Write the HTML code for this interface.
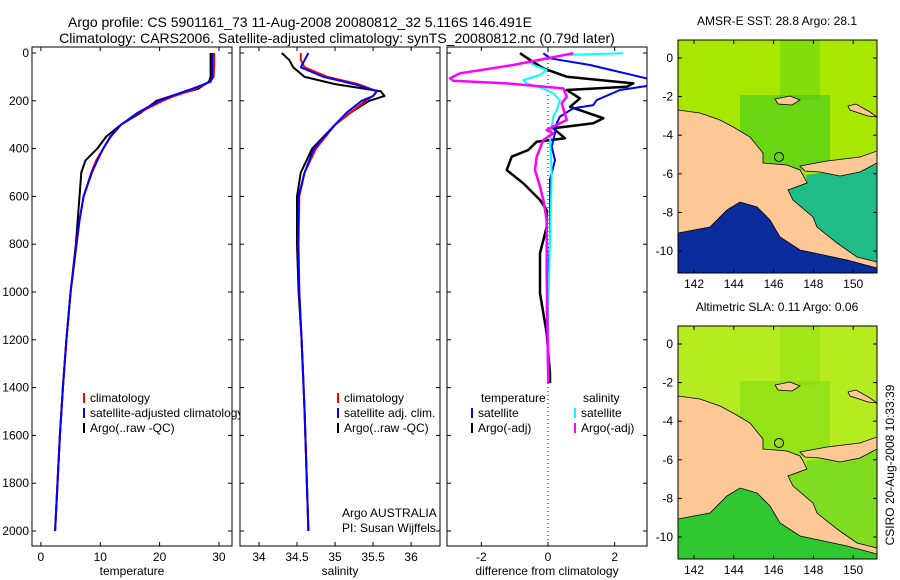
<!DOCTYPE html>
<html><head><meta charset="utf-8">
<style>
body{margin:0;background:#fff;}
svg{display:block;font-family:"Liberation Sans",sans-serif;}
text{font-size:12px;fill:#000;}
</style></head>
<body>
<svg id="fig" width="900" height="580" viewBox="0 0 900 580">
<text x="300" y="27" text-anchor="middle" font-size="14" style="font-size:14px">Argo profile: CS 5901161_73 11-Aug-2008 20080812_32 5.116S 146.491E</text>
<text x="337" y="43" text-anchor="middle" style="font-size:14px">Climatology: CARS2006. Satellite-adjusted climatology: synTS_20080812.nc (0.79d later)</text>
<g id="panels"></g>
<g id="maps"></g>
<text transform="translate(894,465) rotate(-90)" text-anchor="middle">CSIRO 20-Aug-2008 10:33:39</text>
</svg>
<script>
// ---------- data ----------
const tempDepth=[0,50,100,120,150,180,200,250,300,350,400,450,500,600,700,800,1000,1200,1400,1600,1800,2000];
const tempClim=[29.2,29.2,29.1,28.5,26,22.5,20.5,16.5,13.5,11.8,10.5,9.3,8.5,7.2,6.5,6,5,4.3,3.7,3.2,2.8,2.4];
const tempSat=[28.9,28.9,28.9,28.6,25.5,22,20,16.3,13.5,11.7,10.5,9.5,8.6,7.2,6.5,6,5,4.3,3.7,3.2,2.8,2.4];
const tempArgo=[28.6,28.6,28.6,28.3,26.5,22,19.5,16.8,13.5,11,9.5,7.5,6.8,6.5,6.2,5.9,5,4.3,3.7,3.2,2.8,2.4];
const salDepth=[0,30,60,100,130,160,180,200,250,300,400,500,600,800,1000,1200,1500,2000];
const salClim=[34.55,34.55,34.6,34.9,35.3,35.55,35.5,35.4,35.2,35.0,34.75,34.6,34.53,34.52,34.53,34.56,34.6,34.65];
const salSat=[34.65,34.6,34.55,34.85,35.25,35.55,35.5,35.35,35.15,35.0,34.72,34.6,34.52,34.51,34.53,34.56,34.6,34.65];
const salArgo=[34.3,34.4,34.45,34.6,35.0,35.6,35.65,35.45,35.2,35.0,34.7,34.55,34.5,34.5,34.52,34.56,34.6,34.65];
const dTempArgoD=[1,29,64,99,127,141,155,190,225,273,294,315,357,371,406,434,490,545,615,657,727,838,1005,1173,1340,1381];
const dTempArgo=[-0.84,-0.54,-0.14,0.56,2.56,2.36,0.56,0.96,0.66,1.66,1.36,0.16,0.51,-0.34,-0.59,-1.09,-1.24,-0.74,-0.24,-0.04,-0.04,-0.24,-0.24,-0.04,0.06,0.06];
const dTempSatD=[1,22,50,113,134,155,197,218,231,266,294,336,392,448,531,782,1061,1340];
const dTempSat=[-0.14,0.06,1.26,3.16,3.16,2.16,1.46,1.36,0.76,0.36,0.26,0.21,0.11,0.21,0.06,0.06,-0.04,0];
const dSalSatD=[1,8,36,50,71,92,113,127,148,169,197,238,266,308,364,503,782,1061,1298];
const dSalSat=[2.26,0.56,-0.54,-0.44,-0.04,-0.24,-0.74,-0.64,-0.14,0.16,0.36,0.26,0.16,0.11,0.06,0.11,0.06,0.01,0.01];
const dSalArgoD=[1,50,85,106,116,127,148,183,211,280,308,322,336,364,434,490,559,615,699,922,1382];
const dSalArgo=[0.76,-1.04,-2.64,-2.94,-2.84,-1.24,0.46,0.56,0.41,0.56,0.16,-0.04,0.16,-0.14,-0.34,-0.39,-0.24,-0.14,-0.04,-0.04,0.01];
const depthTicks=[0,200,400,600,800,1000,1200,1400,1600,1800,2000];
const tempTicks=[0,10,20,30];
const salTicks=[34,34.5,35,35.5,36];
const diffTicks=[-2,0,2];
const lonTicks=[142,144,146,148,150];
const latTicks=[0,-2,-4,-6,-8,-10];

const NS='http://www.w3.org/2000/svg';
function mk(tag,attrs,parent){const e=document.createElementNS(NS,tag);for(const k in attrs)e.setAttribute(k,attrs[k]);parent.appendChild(e);return e;}
const panels=document.getElementById('panels');
const yD=d=>53+d*0.239;
const PT=47,PB=546;

function panel(name,x0,x1,v0,v1,ticks,label,showDepth){
  const g=mk('g',{},panels);
  
  
  const xs=v=>x0+(v-v0)/(v1-v0)*(x1-x0);
  const fr=mk('rect',{x:x0,y:PT,width:x1-x0,height:PB-PT,fill:'#fff',stroke:'#000','stroke-width':1},g);
  
  
  ticks.forEach(t=>{const X=xs(t);
    mk('line',{x1:X,y1:PB,x2:X,y2:PB-4,stroke:'#000'},g);
    mk('line',{x1:X,y1:PT,x2:X,y2:PT+4,stroke:'#000'},g);
    const tx=mk('text',{x:X,y:PB+15,'text-anchor':'middle'},g);tx.textContent=String(t);
    
    
  });
  depthTicks.forEach(d=>{const Y=yD(d);
    mk('line',{x1:x0,y1:Y,x2:x0+4,y2:Y,stroke:'#000'},g);
    mk('line',{x1:x1,y1:Y,x2:x1-4,y2:Y,stroke:'#000'},g);
    if(showDepth){const tx=mk('text',{x:x0-3,y:Y+4,'text-anchor':'end'},g);tx.textContent=String(d);
      
      }
  });
  const lb=mk('text',{x:(x0+x1)/2,y:PB+29,'text-anchor':'middle'},g);lb.textContent=label;
  
  
  const clip='clip-'+name;
  const cp=mk('clipPath',{id:clip},g);mk('rect',{x:x0,y:PT,width:x1-x0,height:PB-PT},cp);
  const lines=mk('g',{'clip-path':'url(#'+clip+')'},g);
  return {g,xs,lines};
}
function series(p,vals,depths,color,w,name){
  const pts=vals.map((v,i)=>p.xs(v).toFixed(1)+','+yD(depths[i]).toFixed(1)).join(' ');
  const pl=mk('polyline',{points:pts,fill:'none',stroke:color,'stroke-width':w,'stroke-linejoin':'round'},p.lines);
  
  
}
function legend(g,x,y,color,txt,name){
  mk('line',{x1:x,y1:y-9,x2:x,y2:y+1,stroke:color,'stroke-width':2},g);
  const t=mk('text',{x:x+6,y:y},g);t.textContent=txt;
  
  
}

const p1=panel('temperature-panel',32,232,-1.5,32.2,tempTicks,'temperature',true);
series(p1,tempArgo,tempDepth,'#000',2,'temp-argo-line');
series(p1,tempClim,tempDepth,'#f00',2,'temp-climatology-line');
series(p1,tempSat,tempDepth,'#00f',2,'temp-satellite-line');
legend(p1.g,84,402,'#f00','climatology','legend-climatology');
legend(p1.g,84,417,'#00f','satellite-adjusted climatology','legend-satellite');
legend(p1.g,84,432,'#000','Argo(..raw -QC)','legend-argo');

const p2=panel('salinity-panel',240,440,33.75,36.38,salTicks,'salinity',false);
series(p2,salArgo,salDepth,'#000',2,'sal-argo-line');
series(p2,salClim,salDepth,'#f00',2,'sal-climatology-line');
series(p2,salSat,salDepth,'#00f',2,'sal-satellite-line');
legend(p2.g,338,402,'#f00','climatology','legend-sal-climatology');
legend(p2.g,338,417,'#00f','satellite adj. clim.','legend-sal-satellite');
legend(p2.g,338,432,'#000','Argo(..raw -QC)','legend-sal-argo');
[['Argo AUSTRALIA',517],['PI: Susan Wijffels',532]].forEach(([s,y])=>{const t=mk('text',{x:342,y:y},p2.g);t.textContent=s;
  
  });

const p3=panel('difference-panel',447,647,-3.03,2.97,diffTicks,'difference from climatology',false);
mk('line',{x1:p3.xs(0),y1:PT,x2:p3.xs(0),y2:PB,stroke:'#000','stroke-dasharray':'1,3'},p3.lines);
series(p3,dTempArgo,dTempArgoD,'#000',2.5,'diff-temp-argo-line');
series(p3,dTempSat,dTempSatD,'#00f',2,'diff-temp-satellite-line');
series(p3,dSalSat,dSalSatD,'#0ff',2,'diff-sal-satellite-line');
series(p3,dSalArgo,dSalArgoD,'#f0f',2.5,'diff-sal-argo-line');
[['temperature',481,402],['salinity',583,402]].forEach(([s,x,y])=>{const t=mk('text',{x:x,y:y},p3.g);t.textContent=s;
  
  });
legend(p3.g,472,417,'#00f','satellite','legend-diff-temp-satellite');
legend(p3.g,472,432,'#000','Argo(-adj)','legend-diff-temp-argo');
legend(p3.g,575,417,'#0ff','satellite','legend-diff-sal-satellite');
legend(p3.g,575,432,'#f0f','Argo(-adj)','legend-diff-sal-argo');

// ---------- maps ----------
const maps=document.getElementById('maps');
function map(name,top,title,cols){
  const x0=678,x1=877,h=233;
  const g=mk('g',{},maps);
  
  
  const lonX=l=>694+(l-142)*19.9;
  const latY=l=>top+18-l*19.3;
  const cid='clip-'+name;
  const cp=mk('clipPath',{id:cid},g);mk('rect',{x:x0,y:top,width:x1-x0,height:h},cp);
  const outer=mk('g',{'clip-path':'url(#'+cid+')'},g);
  const c=mk('g',{transform:'translate(0,'+(top-40)+')'},outer);
  mk('rect',{x:x0,y:40,width:x1-x0,height:h,fill:cols.top},c);
  mk('rect',{x:740,y:95,width:90,height:75,fill:cols.mid,opacity:0.6},c);
  mk('rect',{x:780,y:40,width:40,height:60,fill:cols.mid,opacity:0.35},c);
  mk('polygon',{points:'806,175 877,165 877,262 857,257 837,243 817,227 813,217 793,200 788,190 807,183',fill:cols.east},c);
  mk('polygon',{points:'678,233 710,227 727,210 740,202 757,207 770,220 780,237 800,250 847,260 877,262 877,273 678,273',fill:cols.south},c);
  mk('polygon',{points:'678,110 700,113 720,120 735,128 750,137 763,153 763,163 775,164 787,165 800,170 803,175 807,183 788,190 793,200 813,217 817,227 837,243 857,257 877,262 877,268 847,260 800,250 780,237 770,220 757,207 740,202 727,210 710,227 678,233',fill:'#fdc896',stroke:'#000','stroke-width':0.8},c);
  mk('polygon',{points:'800,166 827,161 860,157 877,151 877,163 860,172 840,176 820,172 805,171',fill:'#fdc896',stroke:'#000','stroke-width':0.8},c);
  mk('polygon',{points:'775,99 790,96 800,100 792,105 778,104',fill:'#fdc896',stroke:'#000','stroke-width':0.8},c);
  mk('polygon',{points:'848,106 856,104 870,112 877,117 868,116 850,110',fill:'#fdc896',stroke:'#000','stroke-width':0.8},c);
  mk('circle',{cx:779,cy:157,r:4.5,fill:'none',stroke:'#000','stroke-width':1},c);
  const fr=mk('rect',{x:x0,y:top,width:x1-x0,height:h,fill:'none',stroke:'#000'},g);
  
  
  lonTicks.forEach(l=>{const X=lonX(l);
    mk('line',{x1:X,y1:top+h,x2:X,y2:top+h-4,stroke:'#000'},g);
    mk('line',{x1:X,y1:top,x2:X,y2:top+4,stroke:'#000'},g);
    const t=mk('text',{x:X,y:top+h+15,'text-anchor':'middle'},g);t.textContent=String(l);
    
    });
  latTicks.forEach(l=>{const Y=latY(l);
    mk('line',{x1:x0,y1:Y,x2:x0+4,y2:Y,stroke:'#000'},g);
    mk('line',{x1:x1,y1:Y,x2:x1-4,y2:Y,stroke:'#000'},g);
    const t=mk('text',{x:x0-5,y:Y+4,'text-anchor':'end'},g);t.textContent=String(l);
    
    });
  const t=mk('text',{x:777,y:top-15,'text-anchor':'middle'},g);t.textContent=title;
  
  
}
map('sst-map',40,'AMSR-E SST: 28.8 Argo: 28.1',{top:'#a8e800',mid:'#40c820',east:'#20bc88',south:'#0a2c9c'});
map('sla-map',326,'Altimetric SLA: 0.11 Argo: 0.06',{top:'#b4ec20',mid:'#80dc10',east:'#80dc20',south:'#30c830'});
</script>
</body></html>
